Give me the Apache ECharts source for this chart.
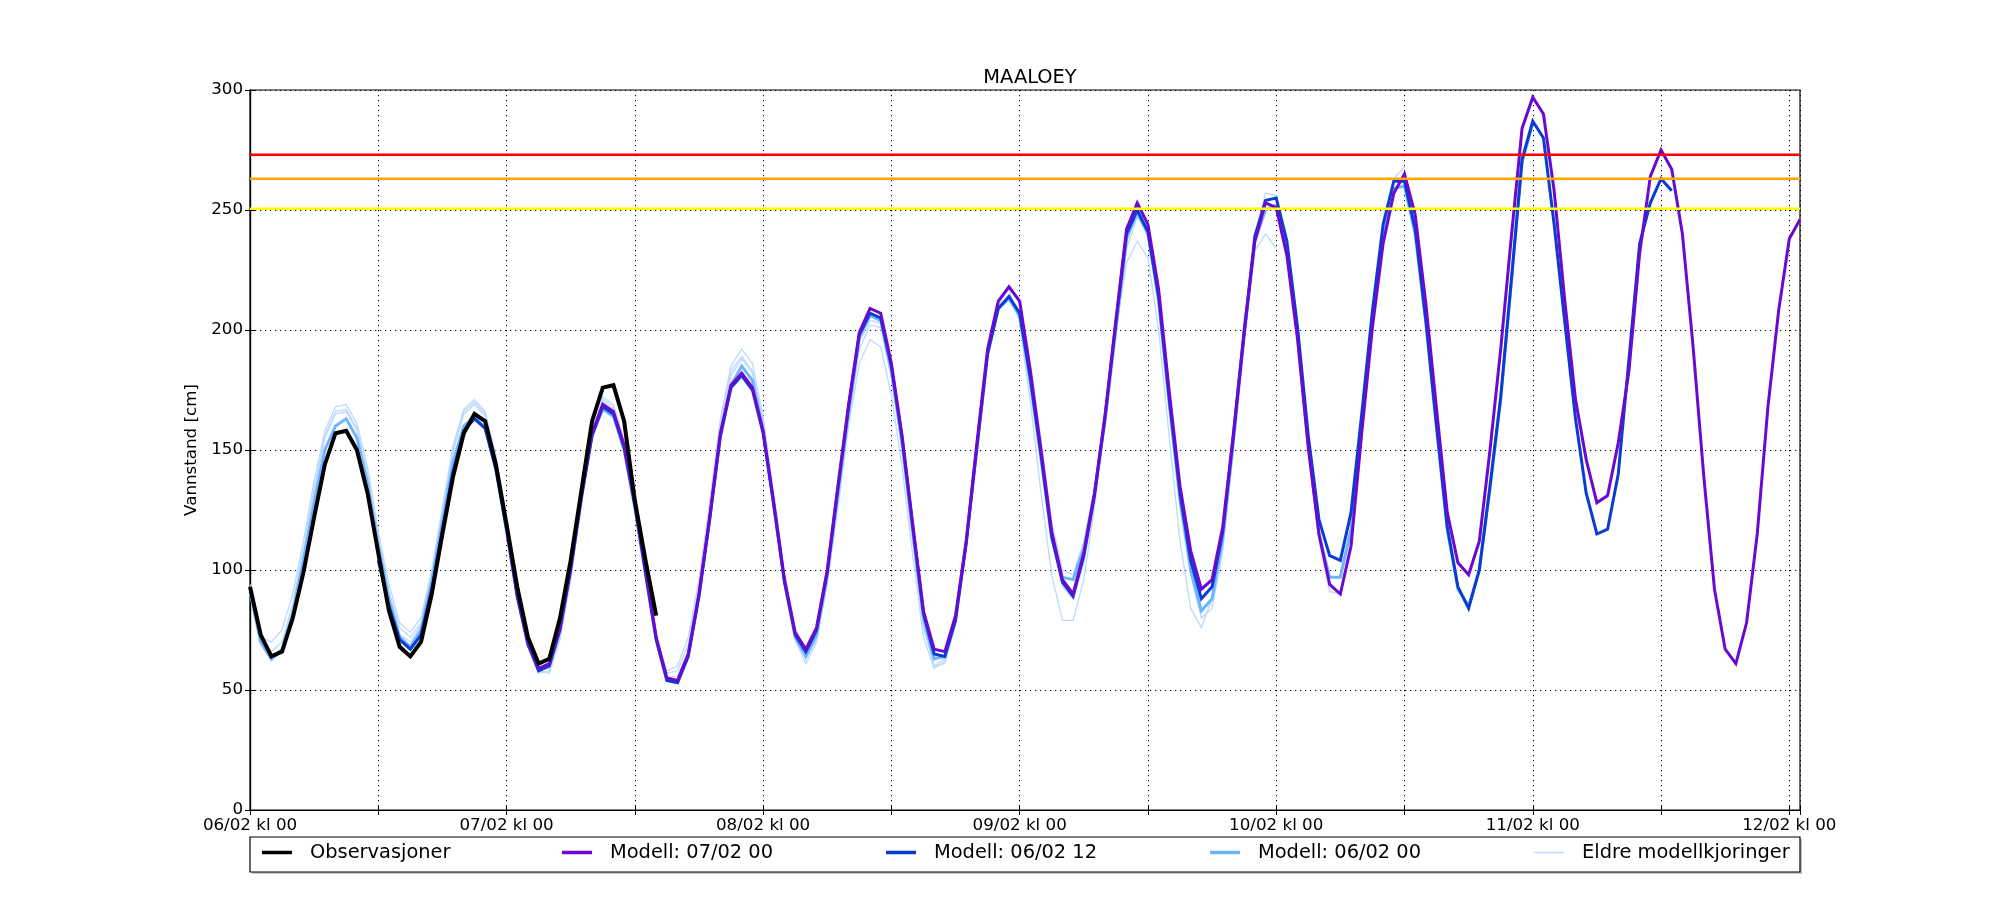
<!DOCTYPE html>
<html>
<head>
<meta charset="utf-8">
<script src="https://cdn.jsdelivr.net/npm/echarts@6/dist/echarts.min.js"></script>
<style>
html, body { margin: 0; padding: 0; background: #fff; }
#chart { width: 2000px; height: 900px; }
</style>
</head>
<body>
<div id="chart"></div>
<script>
// timer (hour 0 = 06/02 kl 00), one value per hour
var xMax = 145;
var dayLabels = ['06/02 kl 00', '07/02 kl 00', '08/02 kl 00', '09/02 kl 00', '10/02 kl 00', '11/02 kl 00', '12/02 kl 00'];

// varslingsnivaer [cm]
var thresholds = [273, 263, 250.5];
var thresholdColors = ['#ff0000', '#ffa500', '#ffff00'];

// Observasjoner, fra time 0
var obsStart = 0;
var obs = [
    93, 73, 64, 66, 80, 99, 122, 144, 157, 158, 150, 132,
    107, 83, 68, 64, 70, 90, 115, 139, 157, 165, 162, 144,
    119, 93, 72, 61, 63, 80, 104, 133, 162, 176, 177, 162,
    129, 104, 81
];

// Modell: 07/02 00, fra time 24
var m0700Start = 24;
var m0700 = [
    118, 90, 70, 59, 61, 76, 101, 131, 157, 169, 166, 152, 128, 100, 72,
    55, 54, 65, 90, 122, 157, 177, 182, 176, 158, 128, 96,
    74, 67, 76, 100, 135, 169, 199, 209, 207, 186, 156, 119,
    83, 67, 66, 81, 112, 153, 192, 212, 218, 212, 183, 150,
    116, 96, 90, 107, 132, 165, 204, 242, 253, 244, 217, 174,
    135, 108, 92, 96, 118, 157, 199, 237, 253, 251, 231, 196,
    151, 115, 94, 90, 110, 157, 201, 236, 257, 265, 248, 211,
    167, 124, 103, 98, 112, 150, 192, 239, 284, 297, 290, 258,
    212, 171, 146, 128, 131, 153, 183, 232, 264, 275, 267, 240,
    193, 139, 92, 67, 61, 78, 115, 168, 208, 238, 246
];

// Modell: 06/02 12, fra time 12
var m0612Start = 12;
var m0612 = [
    104, 85, 71, 67, 73, 92, 117, 141, 158, 163, 159, 142,
    117, 89, 69, 58, 60, 75, 100, 130, 156, 168, 165, 151,
    127, 99, 71, 54, 53, 64, 89, 121, 156, 176, 181, 175,
    157, 127, 95, 73, 66, 75, 99, 134, 168, 198, 207, 205,
    185, 155, 118, 82, 65, 64, 79, 111, 151, 190, 209, 214,
    207, 180, 148, 114, 95, 89, 106, 131, 164, 203, 240, 250,
    241, 214, 171, 132, 104, 88, 93, 116, 156, 199, 239, 254,
    255, 237, 201, 156, 121, 106, 104, 124, 165, 208, 244, 262,
    262, 242, 204, 160, 118, 93, 84, 100, 135, 172, 221, 271,
    287, 280, 244, 203, 163, 132, 115, 117, 140, 188, 236, 253,
    263, 258
];

// Modell: 06/02 00, fra time 0
var m0600Start = 0;
var m0600 = [
    91, 70, 63, 67, 82, 104, 128, 150, 160, 163, 155, 136,
    110, 88, 72, 68, 75, 95, 120, 145, 160, 164, 159, 142,
    116, 89, 69, 58, 60, 76, 101, 131, 156, 167, 164, 150,
    126, 98, 71, 54, 54, 65, 90, 121, 155, 177, 185, 179,
    158, 127, 95, 72, 64, 73, 98, 132, 166, 197, 206, 204,
    183, 153, 116, 80, 63, 64, 80, 112, 151, 190, 209, 213,
    206, 178, 146, 113, 97, 96, 109, 132, 163, 200, 238, 249,
    240, 212, 169, 129, 100, 83, 88, 113, 154, 197, 237, 250,
    252, 234, 198, 152, 115, 97, 97, 117, 160, 204, 240, 259,
    260, 240, 203, 159, 117, 92, 85, 100, 134, 171, 220, 270,
    286
];

// Eldre modellkjoringer, fra time 0
var older1 = [
    92, 69, 62, 66, 83, 107, 132, 155, 165, 166, 158, 139,
    112, 89, 73, 70, 77, 98, 124, 149, 165, 169, 164, 146,
    119, 91, 70, 57, 58, 73, 99, 130, 158, 171, 168, 153,
    128, 99, 71, 55, 56, 66, 91, 122, 157, 181, 188, 182,
    161, 129, 96, 71, 61, 70, 95, 129, 164, 195, 204, 203,
    182, 152, 114, 78, 60, 61, 77, 110, 150, 190, 210, 218,
    212, 186, 154, 120, 100, 98, 112, 134, 164, 200, 238, 250,
    242, 215, 172, 130, 98, 80, 84, 108, 150, 196, 239, 257,
    256, 236, 198, 150, 112, 91, 90, 112, 156, 203, 242, 263,
    268
];
var older2 = [
    94, 72, 70, 75, 90, 112, 137, 158, 168, 169, 161, 143,
    116, 94, 78, 74, 80, 100, 126, 152, 167, 171, 166, 148,
    121, 94, 73, 60, 59, 72, 97, 128, 156, 170, 167, 152,
    127, 98, 71, 58, 60, 72, 96, 128, 163, 185, 192, 186,
    164, 132, 99, 75, 64, 71, 94, 126, 160, 186, 196, 193,
    173, 143, 106, 72, 59, 62, 80, 112, 152, 193, 212, 217,
    203, 170, 132, 98, 79, 79, 96, 126, 165, 200, 228, 237,
    230, 200, 155, 112, 84, 76, 88, 118, 160, 205, 233, 240,
    234
];
var older3 = [
    93, 71, 66, 70, 86, 109, 134, 156, 166, 167, 159, 140,
    114, 91, 76, 72, 78, 99, 124, 150, 166, 170, 165, 147,
    120, 93, 72, 58, 57, 71, 96, 127, 156, 172, 169, 154,
    129, 100, 72, 57, 58, 69, 93, 125, 160, 183, 189, 183,
    162, 130, 97, 73, 63, 71, 96, 128, 162, 192, 202, 201,
    180, 150, 112, 76, 60, 63, 79, 111, 151, 191, 212, 218,
    211, 184, 151, 117, 93, 88, 103, 128, 160, 198, 234, 247,
    240
];

var FONT = 'DejaVu Sans';
var C_OBS = '#000000', C_0700 = '#6a0ad0', C_0612 = '#0a3ccf', C_0600 = '#6cb4ff', C_OLD = '#bcd8ff';

function pairs(start, arr) {
    return arr.map(function (v, i) { return [start + i, v]; });
}

function lineSeries(name, color, width, start, arr, z) {
    return {
        name: name,
        type: 'line',
        symbol: 'none',
        z: z,
        lineStyle: { color: color, width: width, join: 'miter' },
        itemStyle: { color: color },
        data: pairs(start, arr)
    };
}

var chart = echarts.init(document.getElementById('chart'), null, { renderer: 'canvas' });

var series = [
    lineSeries('Eldre modellkjoringer', C_OLD, 1.3, 0, older3, 2),
    lineSeries('Eldre modellkjoringer', C_OLD, 1.3, 0, older2, 2),
    lineSeries('Eldre modellkjoringer', C_OLD, 1.3, 0, older1, 2),
    lineSeries('Modell: 06/02 00', C_0600, 3, m0600Start, m0600, 3),
    lineSeries('Modell: 06/02 12', C_0612, 3, m0612Start, m0612, 4),
    lineSeries('Modell: 07/02 00', C_0700, 3, m0700Start, m0700, 5),
    lineSeries('Observasjoner', C_OBS, 4, obsStart, obs, 6)
];
thresholds.forEach(function (t, i) {
    series.push({
        name: 'nivaa' + i,
        type: 'line',
        symbol: 'none',
        z: 7,
        lineStyle: { color: thresholdColors[i], width: 2.6 },
        data: [[0, t], [xMax, t]]
    });
});

var legendItems = [
    { name: 'Observasjoner', left: 262, h: 3.5 },
    { name: 'Modell: 07/02 00', left: 562, h: 3.5 },
    { name: 'Modell: 06/02 12', left: 886, h: 3.5 },
    { name: 'Modell: 06/02 00', left: 1210, h: 3.5 },
    { name: 'Eldre modellkjoringer', left: 1534, h: 1.5 }
];
var legends = legendItems.map(function (it) {
    return {
        data: [it.name],
        left: it.left,
        top: 843,
        padding: 0,
        icon: 'rect',
        itemWidth: 30,
        itemHeight: it.h,
        selectedMode: false,
        z: 10,
        textStyle: { fontFamily: FONT, fontSize: 19.4, color: '#000', padding: [0, 0, 0, 13] }
    };
});

var gridDots = { show: true, lineStyle: { color: '#000', width: 1, type: [1.2, 3.8] } };

var option = {
    animation: false,
    backgroundColor: '#fff',
    title: {
        text: 'MAALOEY',
        left: 1025,
        textAlign: 'center',
        top: 63,
        textStyle: { fontFamily: FONT, fontSize: 19.4, fontWeight: 'normal', color: '#000' }
    },
    legend: legends,
    grid: {
        left: 250, top: 90, width: 1550, height: 720,
        show: true, borderColor: '#000', borderWidth: 1.2, backgroundColor: 'transparent'
    },
    xAxis: [
        {
            type: 'value', min: 0, max: xMax, interval: 12,
            axisLine: { show: true, lineStyle: { color: '#000', width: 1.2 } },
            axisTick: { show: true, inside: true, length: 5, lineStyle: { color: '#000' } },
            splitLine: gridDots,
            axisLabel: {
                margin: 7, color: '#000', fontFamily: FONT, fontSize: 16.7,
                showMinLabel: true, showMaxLabel: true,
                formatter: function (v) {
                    return v % 24 === 0 ? dayLabels[v / 24] : '';
                }
            }
        },
        {
            type: 'value', position: 'top', min: 0, max: xMax, interval: 12,
            axisLine: { show: true, lineStyle: { color: '#000', width: 1.2 } },
            axisTick: { show: true, inside: true, length: 5, lineStyle: { color: '#000' } },
            axisLabel: { show: false },
            splitLine: { show: false }
        }
    ],
    yAxis: [
        {
            type: 'value', min: 0, max: 300, interval: 50,
            name: 'Vannstand [cm]', nameLocation: 'middle', nameGap: 40,
            nameTextStyle: { fontFamily: FONT, fontSize: 16.7, color: '#000' },
            axisLine: { show: true, lineStyle: { color: '#000', width: 1.2 } },
            axisTick: { show: true, inside: true, length: 5, lineStyle: { color: '#000' } },
            splitLine: gridDots,
            axisLabel: { margin: 7, color: '#000', fontFamily: FONT, fontSize: 16.7 }
        },
        {
            type: 'value', position: 'right', min: 0, max: 300, interval: 50,
            axisLine: { show: true, lineStyle: { color: '#000', width: 1.2 } },
            axisTick: { show: true, inside: true, length: 5, lineStyle: { color: '#000' } },
            axisLabel: { show: false },
            splitLine: { show: false }
        }
    ],
    graphic: [
        {
            type: 'rect', z: 1,
            shape: { x: 252, y: 839, width: 1550, height: 35 },
            style: { fill: '#c8c8c8', stroke: null }
        },
        {
            type: 'rect', z: 2,
            shape: { x: 250, y: 837, width: 1550, height: 35 },
            style: { fill: '#fff', stroke: '#000', lineWidth: 1.2 }
        }
    ],
    series: series
};

chart.setOption(option);
</script>
</body>
</html>
